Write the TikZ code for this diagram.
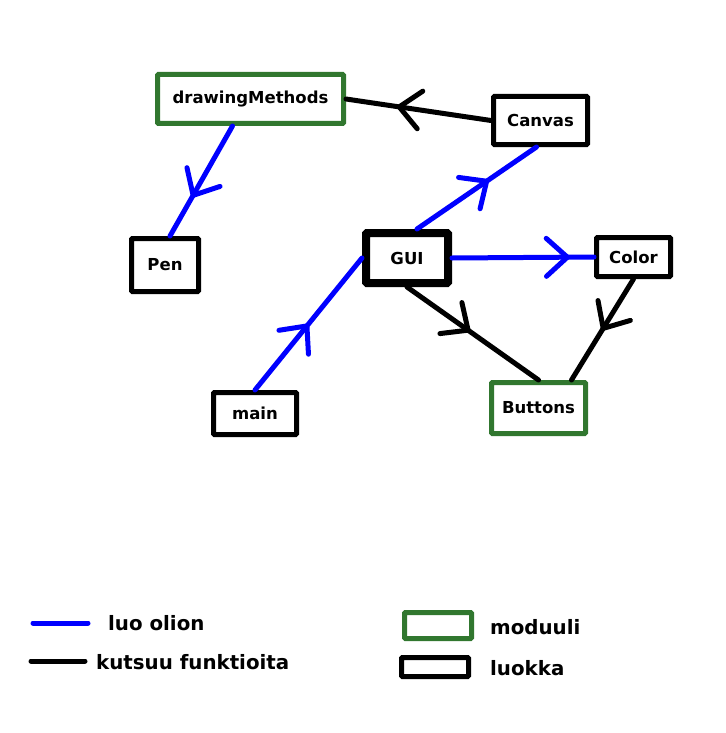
\documentclass[tikz,border=0pt]{standalone}
\usepackage{fontspec}
\setmainfont{DejaVu Sans}
\usepackage{tikz}
\usetikzlibrary{arrows.meta,positioning}
\usetikzlibrary{decorations.markings}
\definecolor{eBlue}{rgb}{0,0,1}
\definecolor{mGreen}{HTML}{31772F}
\tikzset{cls/.style={draw, line width=5pt, rounded corners=1pt, inner sep=0pt,
  font=\fontsize{16.5}{19}\selectfont\bfseries}}
\tikzset{mod/.style={cls, draw=mGreen}}
\tikzset{b/.style={draw, line width=5pt, eBlue, line cap=round, postaction={decorate},
  decoration={markings, mark=at position #1 with {\arrow{Straight Barb[length=21pt, width=38pt, round]}}}},
  b/.default=0.5}
\tikzset{bb/.style={draw, line width=5pt, eBlue, line cap=round}}
\tikzset{k/.style={draw, line width=5pt, black, line cap=round, postaction={decorate},
  decoration={markings, mark=at position #1 with {\arrow{Straight Barb[length=21pt, width=38pt, round]}}}},
  k/.default=0.5}
\tikzset{kk/.style={draw, line width=5pt, black, line cap=round}}
\tikzset{lbl/.style={anchor=west, inner sep=0pt, font=\fontsize{19.8}{22}\selectfont\bfseries}}
\begin{document}
\begin{tikzpicture}[x=1pt, y=-1pt]
    \useasboundingbox (0,0) rectangle (725,733);
    %% modules and classes
    \node (dm) at (250.5,99) [mod, minimum width=186pt, minimum height=49pt] {drawingMethods};
    \node (canvas) at (540.5,120.5) [cls, minimum width=94pt, minimum height=48pt] {Canvas};
    \node (pen) at (165,265) [cls, minimum width=67pt, minimum height=53pt] {Pen};
    \node (gui) at (407,258) [cls, line width=8pt, minimum width=82pt, minimum height=50pt] {GUI};
    \node (color) at (633.5,257) [cls, minimum width=74pt, minimum height=39pt] {Color};
    \node (main) at (255,413.5) [cls, minimum width=83pt, minimum height=42pt] {main};
    \node (buttons) at (538.5,408) [mod, minimum width=94pt, minimum height=51pt] {Buttons};
    %%
    \path[k=0.65] (canvas.west) to (dm.east);
    \path[b=0.65] ([xshift=-18pt]dm.south) to ([xshift=5pt]pen.north);
    \path[b=0.6] ([xshift=10pt]gui.north) to ([xshift=-4pt]canvas.south);
    \path[b=0.83] (gui.east) to (color.west);
    \path[b=0.5] (main.north) to (gui.west);
    \path[k=0.48] (gui.south) to (buttons.north);
    \path[k=0.51] (color.south) to ([xshift=33pt]buttons.north);
    %% legend
    \coordinate (b1) at (33,623);
    \coordinate (b2) at (88,623);
    \coordinate (k1) at (31,661);
    \coordinate (k2) at (85,661);
    \path[bb] (b1) to (b2);
    \path[kk] (k1) to (k2);
    \node (luo) at (108,623) [lbl] {luo olion};
    \node (kutsuu) at (96,662) [lbl] {kutsuu funktioita};
    \node (modbox) at (438,625.5) [mod, minimum width=67pt, minimum height=26pt] {};
    \node (clsbox) at (435,667) [cls, minimum width=67pt, minimum height=19pt] {};
    \node (moduuli) at (490,627) [lbl] {moduuli};
    \node (luokka) at (490,668) [lbl] {luokka};
\end{tikzpicture}
\end{document}
